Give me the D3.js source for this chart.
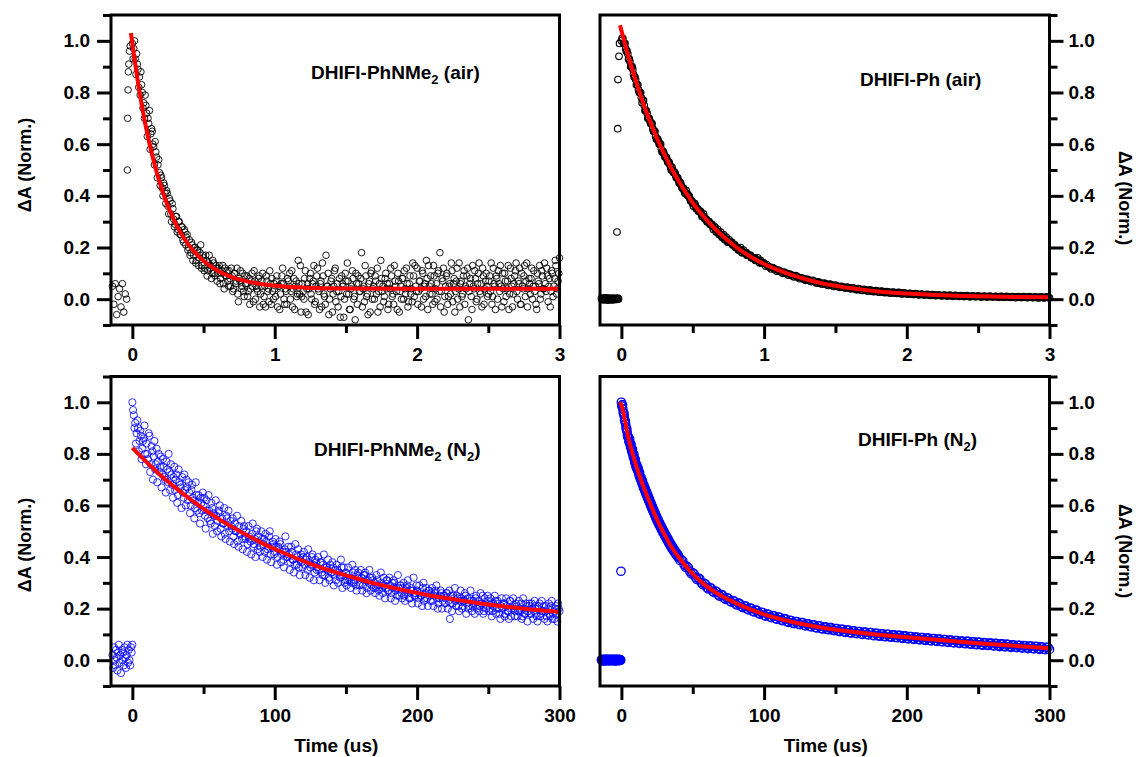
<!DOCTYPE html>
<html>
<head>
<meta charset="utf-8">
<script src="https://cdn.jsdelivr.net/npm/d3@7"></script>
<style>
  body { margin: 0; background: #fff; }
  text { font-family: Arial, "Liberation Sans", sans-serif; font-weight: bold; }
</style>
</head>
<body>
<div id="chart"></div>
<script>
// ---- data ----

// top left: DHIFI-PhNMe2 (air), time in us
var nmeAirPreT = [-0.14,-0.13,-0.12,-0.11,-0.10,-0.09,-0.08,-0.07,-0.06,-0.05,-0.04,-0.035,-0.033,-0.03,-0.028,-0.025,-0.02,-0.015];
var nmeAirPreA = [0.05,-0.02,0.06,-0.06,0.01,0.04,-0.03,0.06,-0.05,0.02,0.00,0.50,0.70,0.81,0.88,0.91,0.96,0.98];
var nmeAirStart = 0, nmeAirStep = 0.01;
var nmeAirA = [
0.99,0.97,0.93,0.95,0.89,0.86,0.88,0.80,0.76,0.79,
0.72,0.70,0.73,0.64,0.65,0.59,0.61,0.55,0.52,0.49,
0.48,0.43,0.45,0.41,0.42,0.36,0.39,0.33,0.37,0.31,
0.29,0.32,0.27,0.30,0.25,0.28,0.22,0.26,0.24,0.19,
0.23,0.18,0.21,0.17,0.20,0.15,0.19,0.16,0.21,0.13,
0.16,0.12,0.15,0.11,0.17,0.13,0.10,0.14,0.09,0.12,
0.10,0.13,0.08,0.11,0.06,0.12,0.09,0.07,0.11,0.05,
0.09,0.04,0.10,0.07,0.02,0.08,0.11,0.05,0.03,0.09,
0.06,0.01,0.08,0.04,0.10,-0.01,0.07,0.05,0.03,0.09,
0.02,0.07,-0.02,0.05,0.09,0.03,-0.01,0.06,0.08,0.00,
0.04,0.07,-0.03,0.05,0.02,0.09,0.06,-0.02,0.03,0.08,
0.05,0.00,0.11,0.04,-0.04,0.07,0.02,0.06,0.13,0.01,
0.03,0.08,-0.05,0.06,0.04,0.10,0.00,0.07,-0.02,0.05,
0.12,0.03,0.06,-0.03,0.09,0.01,0.17,0.05,-0.06,0.04,
0.08,0.02,0.11,-0.01,0.06,0.03,-0.07,0.09,0.05,0.00,
0.07,0.14,0.02,-0.04,0.05,0.08,0.01,0.10,-0.02,0.06,
0.03,0.18,0.04,-0.01,0.09,0.02,0.06,-0.05,0.11,0.04,
0.00,0.07,0.12,0.03,-0.03,0.08,0.05,0.01,0.10,0.06,
-0.02,0.04,0.09,0.02,0.13,0.05,-0.04,0.07,0.03,0.00,
0.08,0.11,0.02,0.06,-0.01,0.09,0.04,0.14,0.01,0.05,
0.12,0.03,0.07,-0.03,0.10,0.05,0.01,0.08,0.13,0.02,
0.06,-0.02,0.09,0.04,0.00,0.11,0.18,0.03,0.07,-0.05,
0.05,0.10,0.01,0.06,0.14,-0.01,0.08,0.03,0.12,0.04,
-0.03,0.07,0.02,0.11,0.05,0.09,-0.08,0.06,0.01,0.13,
0.04,0.08,0.00,0.10,0.03,0.06,0.12,-0.02,0.07,0.05,
0.02,0.09,0.14,0.01,0.06,-0.04,0.08,0.11,0.03,0.05,
0.10,-0.01,0.07,0.04,0.13,0.02,0.08,-0.03,0.06,0.11,
0.03,0.07,0.12,-0.02,0.05,0.09,0.01,0.14,0.04,0.06,
0.08,0.00,0.11,0.05,-0.04,0.07,0.13,0.02,0.09,0.04,
0.06,0.12,-0.01,0.08,0.03,0.10,0.05,0.15,0.02,0.07,
0.16];
// second interleaved sweep, half a step later
var nmeAirStartB = 0.005;
var nmeAirB = [
0.93,1.00,0.87,0.91,0.82,0.79,0.83,0.74,0.70,0.75,
0.63,0.68,0.58,0.66,0.60,0.52,0.57,0.47,0.54,0.44,
0.47,0.40,0.44,0.37,0.41,0.33,0.38,0.30,0.35,0.28,
0.32,0.26,0.30,0.25,0.28,0.23,0.27,0.21,0.25,0.20,
0.17,0.22,0.15,0.20,0.14,0.19,0.13,0.18,0.12,0.17,
0.11,0.17,0.09,0.14,0.12,0.08,0.15,0.10,0.13,0.07,
0.12,0.06,0.10,0.13,0.04,0.09,0.11,0.05,0.08,0.12,
0.03,0.10,0.06,0.12,-0.01,0.07,0.04,0.10,0.01,0.06,
0.09,0.03,-0.02,0.07,0.05,0.11,0.00,0.04,0.08,-0.03,
0.05,0.10,0.01,-0.03,0.07,0.04,0.11,-0.02,0.03,0.06,
0.01,0.09,0.05,-0.04,0.06,0.12,0.00,0.04,-0.02,0.07,
0.10,0.03,-0.03,0.08,0.05,0.01,0.15,0.02,-0.05,0.06,
0.00,0.11,0.04,-0.06,0.08,0.02,0.06,0.13,-0.01,0.09,
0.04,-0.04,0.07,0.14,0.02,-0.02,0.05,0.10,0.00,0.07,
-0.05,0.05,0.12,0.03,-0.03,0.08,0.01,0.06,-0.07,0.10,
0.02,0.07,-0.04,0.04,0.11,0.00,-0.08,0.06,0.09,0.03,
0.08,-0.03,0.05,0.13,0.01,-0.06,0.07,0.10,0.00,0.05,
0.09,0.02,-0.05,0.06,0.15,0.03,-0.01,0.08,0.04,-0.04,
0.06,0.12,0.01,-0.02,0.07,0.03,0.10,-0.05,0.05,0.08,
0.00,0.04,0.12,-0.03,0.06,0.02,-0.01,0.09,0.13,0.03,
-0.02,0.07,0.04,0.11,0.00,0.06,0.15,-0.04,0.05,0.09,
0.02,0.13,-0.01,0.06,0.10,0.03,-0.03,0.08,0.12,0.01,
0.09,-0.02,0.05,0.02,0.11,0.06,-0.05,0.07,0.00,0.14,
0.06,0.01,0.09,-0.02,0.04,0.12,0.03,0.08,-0.04,0.05,
0.11,-0.01,0.06,0.14,0.02,-0.03,0.09,0.04,0.10,0.01,
0.07,0.03,-0.02,0.12,0.05,0.09,0.00,0.06,0.13,-0.03,
0.04,0.10,0.01,0.07,-0.04,0.12,0.05,0.02,0.09,0.14,
0.00,0.06,-0.02,0.10,0.04,0.13,0.07,-0.03,0.08,0.02,
0.12,0.05,0.03,-0.02,0.10,0.06,0.00,0.11,0.04,0.14,
0.03,0.09,0.05,-0.03,0.11,0.01,0.08,0.13,0.04,0.10];
var nmeAirFitT = [-0.01,0.04,0.09,0.14,0.19,0.24,0.29,0.34,0.39,0.49,0.59,0.69,0.79,0.89,0.99,1.19,1.49,1.99,2.5,3.0];
var nmeAirFitA = [1.03,0.837,0.681,0.556,0.455,0.374,0.309,0.256,0.214,0.153,0.113,0.087,0.071,0.060,0.053,0.045,0.041,0.040,0.040,0.040];

// top right: DHIFI-Ph (air)
var phAirPreStart = -0.14, phAirPreStep = 0.005;
var phAirPreA = [0.003,-0.002,0.004,0.000,-0.003,0.002,0.005,-0.001,0.003,-0.004,0.001,0.004,-0.002,0.002,0.000,-0.003,0.004,0.001,-0.002,0.003,0.000,0.002,-0.001,0.004,0.001];
var phAirRiseT = [-0.031,-0.026,-0.024,-0.017,-0.013];
var phAirRiseA = [0.26,0.66,0.85,0.94,0.99];
var phAirStart1 = 0, phAirStep1 = 0.01;
var phAirA1 = [
1.00,1.01,0.99,0.97,0.96,0.93,0.92,0.90,0.89,0.86,
0.85,0.83,0.81,0.80,0.78,0.77,0.75,0.73,0.72,0.70,
0.69,0.68,0.66,0.65,0.63,0.62,0.61,0.60,0.58,0.57,
0.56,0.55,0.54,0.53,0.52,0.50,0.50,0.49,0.48,0.47,
0.46,0.45,0.44,0.43,0.42,0.41,0.41,0.40,0.39,0.38,
0.37,0.37,0.36,0.35,0.34,0.34,0.33,0.32,0.32,0.31,
0.30,0.30,0.29,0.29,0.28,0.28,0.27,0.26,0.26,0.25,
0.25,0.24,0.24,0.23,0.23,0.22,0.22,0.22,0.21,0.21,
0.20,0.20,0.19,0.19,0.19,0.18,0.18,0.18,0.17,0.17,
0.17,0.16,0.16,0.16,0.15,0.15,0.15,0.14,0.14,0.14,
0.14];
var phAirStart1B = 0.005;
var phAirB1 = [
1.01,0.99,0.99,0.96,0.95,0.93,0.90,0.90,0.87,0.86,
0.83,0.83,0.80,0.80,0.76,0.77,0.73,0.73,0.70,0.70,
0.68,0.68,0.65,0.65,0.62,0.62,0.60,0.60,0.57,0.57,
0.55,0.55,0.53,0.53,0.51,0.51,0.49,0.49,0.47,0.47,
0.45,0.45,0.43,0.43,0.41,0.42,0.40,0.40,0.38,0.38,
0.36,0.37,0.35,0.35,0.34,0.34,0.32,0.33,0.31,0.31,
0.30,0.30,0.29,0.29,0.27,0.28,0.26,0.27,0.25,0.26,
0.24,0.25,0.23,0.24,0.22,0.23,0.22,0.22,0.21,0.21,
0.20,0.20,0.19,0.20,0.18,0.19,0.18,0.18,0.17,0.17,
0.17,0.16,0.16,0.16,0.15,0.16,0.15,0.15,0.14,0.14];
var phAirStart2 = 1.02, phAirStep2 = 0.02;
var phAirA2 = [
0.133,0.124,0.122,0.114,0.113,0.106,0.105,0.099,0.097,0.090,
0.091,0.084,0.083,0.077,0.078,0.071,0.073,0.066,0.067,0.060,
0.062,0.056,0.058,0.052,0.054,0.048,0.050,0.045,0.047,0.041,
0.044,0.038,0.041,0.035,0.038,0.033,0.036,0.030,0.033,0.028,
0.031,0.026,0.029,0.024,0.027,0.023,0.026,0.021,0.024,0.020,
0.023,0.018,0.022,0.017,0.020,0.016,0.019,0.015,0.018,0.014,
0.017,0.013,0.016,0.012,0.016,0.011,0.015,0.011,0.014,0.010,
0.014,0.009,0.013,0.009,0.013,0.008,0.012,0.008,0.012,0.008,
0.011,0.007,0.011,0.007,0.011,0.007,0.010,0.006,0.010,0.006,
0.010,0.006,0.010,0.006,0.009,0.005,0.009,0.005,0.009,0.005];
var phAirStart2B = 1.01;
var phAirB2 = [
0.128,0.126,0.117,0.118,0.108,0.109,0.100,0.102,0.093,0.094,
0.086,0.088,0.079,0.081,0.073,0.075,0.068,0.070,0.062,0.064,
0.058,0.060,0.053,0.056,0.049,0.052,0.046,0.048,0.043,0.045,
0.040,0.042,0.036,0.039,0.034,0.036,0.031,0.034,0.029,0.032,
0.027,0.030,0.025,0.028,0.023,0.026,0.022,0.025,0.020,0.023,
0.019,0.022,0.018,0.021,0.017,0.019,0.016,0.018,0.015,0.017,
0.014,0.016,0.013,0.015,0.013,0.014,0.012,0.014,0.011,0.013,
0.011,0.012,0.010,0.012,0.010,0.011,0.009,0.011,0.009,0.010,
0.009,0.010,0.008,0.010,0.008,0.009,0.007,0.009,0.007,0.009,
0.007,0.008,0.006,0.008,0.006,0.008,0.006,0.008,0.006,0.007];
var phAirFitT = [-0.01,0,0.05,0.1,0.15,0.2,0.25,0.3,0.35,0.4,0.45,0.5,0.6,0.7,0.8,0.9,1.0,1.1,1.2,1.3,1.4,1.5,1.6,1.7,1.8,1.9,2.0,2.2,2.4,2.6,2.8,3.0];
var phAirFitA = [1.06,1.04,0.938,0.847,0.764,0.690,0.622,0.562,0.507,0.458,0.414,0.373,0.305,0.249,0.203,0.166,0.136,0.112,0.092,0.076,0.062,0.052,0.043,0.036,0.030,0.025,0.022,0.016,0.012,0.010,0.008,0.007];

// bottom left: DHIFI-PhNMe2 (N2)
var nmeN2PreStart = -14, nmeN2PreStep = 0.5;
var nmeN2PreA = [0.02,-0.03,0.05,0.00,-0.02,0.04,0.01,-0.04,0.03,0.06,-0.01,0.02,-0.05,0.04,0.00,0.03,-0.02,0.05,0.01,-0.03,0.02,0.06,-0.01,0.04,0.00,-0.02,0.05,0.03,0.06];
var nmeN2Start = 0, nmeN2Step = 1;
var nmeN2A = [
1.00,0.95,0.92,0.88,0.90,0.85,0.87,0.82,0.86,0.80,
0.84,0.78,0.87,0.76,0.81,0.79,0.74,0.82,0.77,0.73,
0.79,0.72,0.75,0.70,0.77,0.69,0.73,0.76,0.68,0.71,
0.66,0.72,0.64,0.69,0.67,0.71,0.63,0.66,0.70,0.62,
0.65,0.60,0.68,0.62,0.59,0.64,0.61,0.57,0.63,0.58,
0.60,0.56,0.62,0.55,0.58,0.53,0.59,0.57,0.52,0.56,
0.54,0.58,0.51,0.55,0.53,0.49,0.56,0.52,0.50,0.54,
0.51,0.48,0.53,0.50,0.46,0.52,0.49,0.47,0.51,0.48,
0.50,0.45,0.48,0.46,0.49,0.44,0.47,0.50,0.43,0.46,
0.44,0.47,0.45,0.42,0.46,0.43,0.48,0.41,0.44,0.45,
0.42,0.44,0.40,0.43,0.45,0.41,0.39,0.43,0.42,0.40,
0.41,0.38,0.42,0.39,0.37,0.41,0.40,0.36,0.39,0.38,
0.40,0.37,0.39,0.35,0.38,0.36,0.40,0.37,0.34,0.38,
0.36,0.35,0.38,0.34,0.37,0.33,0.36,0.35,0.32,0.37,
0.34,0.36,0.33,0.31,0.35,0.34,0.32,0.36,0.33,0.30,
0.34,0.31,0.33,0.32,0.30,0.34,0.31,0.29,0.33,0.32,
0.30,0.32,0.29,0.33,0.31,0.28,0.30,0.32,0.29,0.31,
0.30,0.28,0.31,0.27,0.29,0.30,0.26,0.29,0.28,0.31,
0.27,0.29,0.26,0.28,0.30,0.27,0.25,0.28,0.29,0.26,
0.28,0.25,0.27,0.29,0.26,0.24,0.28,0.27,0.25,0.26,
0.27,0.24,0.26,0.25,0.28,0.23,0.26,0.24,0.27,0.25,
0.26,0.23,0.25,0.27,0.24,0.22,0.25,0.26,0.23,0.25,
0.24,0.26,0.23,0.16,0.25,0.22,0.24,0.23,0.25,0.21,
0.23,0.24,0.21,0.23,0.25,0.22,0.20,0.24,0.23,0.21,
0.22,0.24,0.20,0.23,0.21,0.22,0.25,0.19,0.22,0.21,
0.23,0.20,0.22,0.19,0.21,0.23,0.20,0.22,0.18,0.21,
0.20,0.22,0.18,0.21,0.19,0.23,0.17,0.21,0.20,0.19,
0.21,0.19,0.20,0.22,0.17,0.20,0.18,0.21,0.19,0.22,
0.18,0.20,0.19,0.21,0.17,0.20,0.22,0.18,0.19,0.21,
0.19,0.17,0.20,0.18,0.21,0.16,0.19,0.20,0.18,0.22,
0.19];
var nmeN2StartB = 0.5;
var nmeN2B = [
0.97,0.90,0.84,0.93,0.81,0.89,0.78,0.85,0.91,0.76,
0.80,0.88,0.73,0.83,0.70,0.85,0.76,0.69,0.80,0.75,
0.67,0.78,0.71,0.65,0.74,0.80,0.66,0.72,0.63,0.75,
0.70,0.61,0.74,0.68,0.59,0.65,0.72,0.60,0.67,0.69,
0.57,0.66,0.63,0.55,0.69,0.58,0.64,0.53,0.61,0.65,
0.63,0.51,0.58,0.64,0.54,0.61,0.49,0.56,0.62,0.50,
0.57,0.60,0.48,0.53,0.59,0.47,0.55,0.58,0.46,0.52,
0.55,0.45,0.50,0.56,0.44,0.49,0.54,0.43,0.52,0.47,
0.42,0.52,0.47,0.41,0.53,0.45,0.40,0.51,0.48,0.42,
0.50,0.40,0.47,0.49,0.39,0.44,0.50,0.38,0.46,0.41,
0.47,0.37,0.44,0.46,0.38,0.42,0.36,0.48,0.40,0.44,
0.35,0.44,0.39,0.34,0.45,0.37,0.43,0.33,0.41,0.36,
0.42,0.33,0.40,0.43,0.32,0.37,0.41,0.31,0.39,0.35,
0.40,0.31,0.38,0.33,0.41,0.30,0.36,0.39,0.31,0.34,
0.38,0.29,0.35,0.37,0.30,0.33,0.39,0.28,0.36,0.31,
0.29,0.36,0.31,0.28,0.37,0.30,0.35,0.27,0.34,0.29,
0.35,0.27,0.33,0.34,0.26,0.31,0.35,0.27,0.32,0.28,
0.26,0.33,0.29,0.25,0.34,0.28,0.32,0.24,0.31,0.27,
0.32,0.24,0.30,0.31,0.23,0.28,0.33,0.25,0.29,0.24,
0.30,0.23,0.28,0.31,0.24,0.27,0.22,0.32,0.25,0.29,
0.22,0.29,0.25,0.21,0.30,0.24,0.28,0.21,0.27,0.23,
0.28,0.21,0.26,0.29,0.20,0.24,0.27,0.20,0.25,0.22,
0.26,0.20,0.27,0.22,0.19,0.25,0.28,0.21,0.24,0.19,
0.27,0.20,0.23,0.26,0.18,0.24,0.21,0.27,0.19,0.23,
0.18,0.25,0.21,0.19,0.26,0.22,0.18,0.24,0.20,0.25,
0.19,0.24,0.17,0.22,0.25,0.18,0.23,0.20,0.16,0.24,
0.22,0.17,0.24,0.19,0.16,0.23,0.20,0.24,0.17,0.22,
0.17,0.23,0.19,0.16,0.24,0.18,0.22,0.15,0.21,0.18,
0.22,0.16,0.23,0.18,0.15,0.21,0.17,0.23,0.19,0.16,
0.21,0.15,0.22,0.17,0.23,0.18,0.16,0.21,0.15,0.20];
var nmeN2FitT = [0,10,20,30,40,50,60,70,80,90,100,110,120,130,140,150,160,170,180,190,200,210,220,230,240,250,260,270,280,290,300];
var nmeN2FitA = [0.823,0.768,0.716,0.670,0.627,0.587,0.550,0.517,0.486,0.457,0.431,0.407,0.385,0.364,0.346,0.329,0.313,0.298,0.285,0.272,0.261,0.250,0.241,0.232,0.224,0.216,0.209,0.203,0.197,0.192,0.187];

// bottom right: DHIFI-Ph (N2)
var phN2PreStart = -14, phN2PreStep = 0.25;
var phN2PreA = [
0.002,-0.002,0.001,0.003,-0.001,0.002,-0.003,0.001,0.002,-0.002,
0.003,0.000,-0.001,0.002,0.001,-0.002,0.003,-0.001,0.002,0.000,
-0.002,0.001,0.003,-0.001,0.002,-0.002,0.001,0.002,0.000,-0.001,
0.003,0.001,-0.002,0.002,0.000,0.003,-0.001,0.001,-0.003,0.002,
0.001,-0.002,0.003,0.000,0.002,-0.001,0.001,0.003,-0.002,0.000,
0.002,-0.001,0.001,0.002,0.000];
var phN2OutT = [-0.3], phN2OutA = [0.345];
var phN2Start1 = 0, phN2Step1 = 0.5;
var phN2A1 = [
1.00,0.99,0.975,0.955,0.945,0.925,0.915,0.895,0.885,0.865,
0.862,0.845,0.843,0.825,0.822,0.805,0.803,0.785,0.783,0.765,
0.763,0.745,0.748,0.735,0.733,0.715,0.712,0.700,0.698,0.685,
0.683,0.668,0.669,0.655,0.655,0.640,0.641,0.627,0.628,0.613,
0.613,0.599,0.600,0.586,0.587,0.573,0.574,0.560,0.561,0.547,
0.548,0.535,0.537,0.524,0.526,0.513,0.515,0.502,0.504,0.491,
0.493,0.481,0.483,0.471,0.473,0.461,0.463,0.451,0.453,0.441,
0.443,0.432,0.435,0.424,0.427,0.416,0.419,0.408,0.411,0.400,
0.403];
var phN2Start1B = 0.25;
var phN2B1 = [
0.985,0.990,0.962,0.958,0.932,0.928,0.902,0.898,0.872,0.868,
0.850,0.858,0.832,0.838,0.812,0.818,0.792,0.798,0.772,0.778,
0.752,0.758,0.738,0.745,0.722,0.728,0.704,0.710,0.690,0.696,
0.674,0.680,0.660,0.666,0.646,0.652,0.632,0.638,0.619,0.624,
0.605,0.610,0.591,0.596,0.578,0.583,0.565,0.570,0.552,0.557,
0.540,0.545,0.528,0.533,0.517,0.522,0.506,0.511,0.495,0.500,
0.485,0.490,0.475,0.480,0.465,0.470,0.455,0.460,0.445,0.450,
0.436,0.441,0.428,0.432,0.420,0.424,0.412,0.416,0.404,0.408];
var phN2Start2 = 42, phN2Step2 = 2;
var phN2A2 = [
0.390,0.369,0.364,0.343,0.339,0.320,0.318,0.300,0.298,0.281,
0.282,0.267,0.268,0.253,0.254,0.240,0.242,0.229,0.231,0.218,
0.221,0.208,0.211,0.199,0.202,0.190,0.194,0.182,0.186,0.174,
0.179,0.168,0.173,0.162,0.167,0.156,0.161,0.150,0.155,0.144,
0.150,0.140,0.146,0.136,0.141,0.131,0.137,0.127,0.133,0.123,
0.129,0.120,0.126,0.117,0.123,0.113,0.120,0.110,0.117,0.107,
0.114,0.105,0.111,0.102,0.109,0.100,0.107,0.097,0.104,0.095,
0.102,0.093,0.100,0.091,0.098,0.089,0.096,0.087,0.094,0.085,
0.092,0.083,0.090,0.081,0.088,0.079,0.086,0.077,0.084,0.075,
0.082,0.073,0.080,0.071,0.078,0.069,0.076,0.067,0.074,0.066,
0.073,0.064,0.071,0.062,0.070,0.061,0.068,0.059,0.066,0.058,
0.065,0.056,0.063,0.054,0.062,0.053,0.060,0.051,0.058,0.050,
0.057,0.048,0.055,0.046,0.054,0.045,0.052,0.043,0.050,0.042];
var phN2Start2B = 41;
var phN2B2 = [
0.387,0.386,0.360,0.359,0.335,0.335,0.313,0.315,0.293,0.295,
0.276,0.279,0.262,0.265,0.248,0.252,0.236,0.240,0.225,0.229,
0.214,0.219,0.204,0.210,0.195,0.201,0.187,0.193,0.179,0.185,
0.171,0.178,0.165,0.172,0.159,0.166,0.153,0.160,0.147,0.154,
0.142,0.150,0.138,0.146,0.133,0.141,0.129,0.137,0.125,0.133,
0.121,0.129,0.118,0.126,0.115,0.123,0.111,0.120,0.108,0.117,
0.105,0.114,0.103,0.111,0.100,0.109,0.098,0.107,0.095,0.104,
0.093,0.102,0.091,0.100,0.089,0.098,0.087,0.096,0.085,0.094,
0.083,0.092,0.081,0.090,0.079,0.088,0.077,0.086,0.075,0.084,
0.073,0.082,0.071,0.080,0.069,0.078,0.067,0.076,0.065,0.074,
0.064,0.073,0.062,0.071,0.060,0.069,0.058,0.067,0.057,0.066,
0.055,0.064,0.053,0.063,0.052,0.061,0.050,0.059,0.049,0.058,
0.047,0.056,0.045,0.055,0.044,0.053,0.042,0.051,0.041,0.050];
var phN2FitT = [-1,0,5,10,15,20,25,30,35,40,50,60,70,80,90,100,120,140,160,180,200,225,250,275,300];
var phN2FitA = [1.0,0.99,0.86,0.76,0.68,0.61,0.545,0.49,0.44,0.40,0.335,0.285,0.25,0.222,0.198,0.178,0.148,0.127,0.111,0.099,0.089,0.077,0.066,0.056,0.046];

// ticks
var yMajor = [0, 0.2, 0.4, 0.6, 0.8, 1.0];
var yMinor = [-0.1, 0.1, 0.3, 0.5, 0.7, 0.9, 1.1];
var xMajorAir = [0, 1, 2, 3], xMinorAir = [0.5, 1.5, 2.5];
var xMajorN2 = [0, 100, 200, 300], xMinorN2 = [50, 150, 250];

// ---- helpers ----
function sampled(t0, dt, vals) {
  return vals.map(function(v, i) { return {t: t0 + i * dt, a: v}; });
}
function paired(ts, vals) {
  return vals.map(function(v, i) { return {t: ts[i], a: v}; });
}

var width = 1136, height = 757;

var svg = d3.select("#chart")
  .append("svg")
    .attr("width", width)
    .attr("height", height);
svg.append("rect").attr("width", width).attr("height", height).attr("fill", "#fff");

var panels = [
  { x0: 111, x1: 559.5, y0: 15, y1: 325, xDomain: [-0.15, 3], side: "left",
    color: "#000", r: 3.3, sw: 0.9,
    pts: paired(nmeAirPreT, nmeAirPreA).concat(
      sampled(nmeAirStart, nmeAirStep, nmeAirA),
      sampled(nmeAirStartB, nmeAirStep, nmeAirB)),
    fit: paired(nmeAirFitT, nmeAirFitA),
    xMajor: xMajorAir, xMinor: xMinorAir, xTitle: false,
    label: [["DHIFI-PhNMe", 0], ["2", 1], [" (air)", 0]], lx: 311, ly: 79,
    yTitleX: 31, yTitleY: 165 },
  { x0: 600, x1: 1049.5, y0: 15, y1: 325, xDomain: [-0.15, 3], side: "right",
    color: "#000", r: 3.3, sw: 1.1,
    pts: sampled(phAirPreStart, phAirPreStep, phAirPreA).concat(
      paired(phAirRiseT, phAirRiseA),
      sampled(phAirStart1, phAirStep1, phAirA1),
      sampled(phAirStart1B, phAirStep1, phAirB1),
      sampled(phAirStart2, phAirStep2, phAirA2),
      sampled(phAirStart2B, phAirStep2, phAirB2)),
    fit: paired(phAirFitT, phAirFitA),
    xMajor: xMajorAir, xMinor: xMinorAir, xTitle: false,
    label: [["DHIFI-Ph (air)", 0]], lx: 860, ly: 86,
    yTitleX: 1119, yTitleY: 198 },
  { x0: 111, x1: 559.5, y0: 376.5, y1: 686, xDomain: [-15, 300], side: "left",
    color: "#0000ff", r: 3.6, sw: 0.8,
    pts: sampled(nmeN2PreStart, nmeN2PreStep, nmeN2PreA).concat(
      sampled(nmeN2Start, nmeN2Step, nmeN2A),
      sampled(nmeN2StartB, nmeN2Step, nmeN2B)),
    fit: paired(nmeN2FitT, nmeN2FitA),
    xMajor: xMajorN2, xMinor: xMinorN2, xTitle: true,
    label: [["DHIFI-PhNMe", 0], ["2", 1], [" (N", 0], ["2", 1], [")", 0]], lx: 314, ly: 456,
    yTitleX: 31, yTitleY: 545 },
  { x0: 600, x1: 1049.5, y0: 376.5, y1: 686, xDomain: [-15, 300], side: "right",
    color: "#0000ff", r: 4.2, sw: 1.3,
    pts: sampled(phN2PreStart, phN2PreStep, phN2PreA).concat(
      paired(phN2OutT, phN2OutA),
      sampled(phN2Start1, phN2Step1, phN2A1),
      sampled(phN2Start1B, phN2Step1, phN2B1),
      sampled(phN2Start2, phN2Step2, phN2A2),
      sampled(phN2Start2B, phN2Step2, phN2B2)),
    fit: paired(phN2FitT, phN2FitA),
    xMajor: xMajorN2, xMinor: xMinorN2, xTitle: true,
    label: [["DHIFI-Ph (N", 0], ["2", 1], [")", 0]], lx: 858, ly: 446,
    yTitleX: 1119, yTitleY: 551 }
];

function styleAxis(g) {
  g.select(".domain").remove();
  g.selectAll(".tick line").attr("stroke", "#000").attr("stroke-width", 3);
  g.selectAll(".tick text")
    .attr("fill", "#000")
    .style("font-size", "19px")
    .style("font-weight", "bold")
    .style("font-family", "Arial, 'Liberation Sans', sans-serif");
}

panels.forEach(function(p) {
  var x = d3.scaleLinear().domain(p.xDomain).range([p.x0, p.x1]);
  var y = d3.scaleLinear().domain([-0.1, 1.1]).range([p.y1, p.y0]);
  var g = svg.append("g");

  // measured points
  g.append("g")
    .selectAll("circle")
    .data(p.pts)
    .join("circle")
      .attr("cx", function(d) { return x(d.t); })
      .attr("cy", function(d) { return y(d.a); })
      .attr("r", p.r)
      .attr("fill", "none")
      .attr("stroke", p.color)
      .attr("stroke-width", p.sw);

  // fit curve
  var line = d3.line()
    .x(function(d) { return x(d.t); })
    .y(function(d) { return y(d.a); })
    .curve(d3.curveMonotoneX);
  g.append("path")
    .datum(p.fit)
    .attr("d", line)
    .attr("fill", "none")
    .attr("stroke", "#ff0000")
    .attr("stroke-width", 4);

  // frame
  g.append("rect")
    .attr("x", p.x0).attr("y", p.y0)
    .attr("width", p.x1 - p.x0).attr("height", p.y1 - p.y0)
    .attr("fill", "none")
    .attr("stroke", "#000")
    .attr("stroke-width", 3);

  // x axis
  g.append("g")
    .attr("transform", "translate(0," + p.y1 + ")")
    .call(d3.axisBottom(x).tickValues(p.xMinor).tickSize(8).tickFormat(""))
    .call(styleAxis);
  g.append("g")
    .attr("transform", "translate(0," + p.y1 + ")")
    .call(d3.axisBottom(x).tickValues(p.xMajor).tickSize(14).tickPadding(9).tickFormat(d3.format("d")))
    .call(styleAxis);

  // y axis
  var yx = p.side == "left" ? p.x0 : p.x1;
  var axisFn = p.side == "left" ? d3.axisLeft : d3.axisRight;
  g.append("g")
    .attr("transform", "translate(" + yx + ",0)")
    .call(axisFn(y).tickValues(yMinor).tickSize(8).tickFormat(""))
    .call(styleAxis);
  g.append("g")
    .attr("transform", "translate(" + yx + ",0)")
    .call(axisFn(y).tickValues(yMajor).tickSize(14).tickPadding(p.side == "left" ? 7 : 5).tickFormat(d3.format(".1f")))
    .call(styleAxis);

  // y title
  g.append("text")
    .attr("transform", "translate(" + p.yTitleX + "," + p.yTitleY + ") rotate(" + (p.side == "left" ? -90 : 90) + ")")
    .attr("text-anchor", "middle")
    .style("font-size", "18px")
    .text("\u0394A (Norm.)");

  // x title
  if (p.xTitle) {
    g.append("text")
      .attr("x", (p.x0 + p.x1) / 2 + 1)
      .attr("y", 752)
      .attr("text-anchor", "middle")
      .style("font-size", "19px")
      .text("Time (us)");
  }

  // sample label with subscripts
  var t = g.append("text")
    .attr("x", p.lx)
    .attr("y", p.ly)
    .style("font-size", "19px");
  var down = false;
  p.label.forEach(function(part) {
    var s = t.append("tspan").text(part[0]);
    if (part[1] && !down) { s.attr("dy", 5).style("font-size", "13px"); down = true; }
    else if (!part[1] && down) { s.attr("dy", -5); down = false; }
  });
});
</script>
</body>
</html>
